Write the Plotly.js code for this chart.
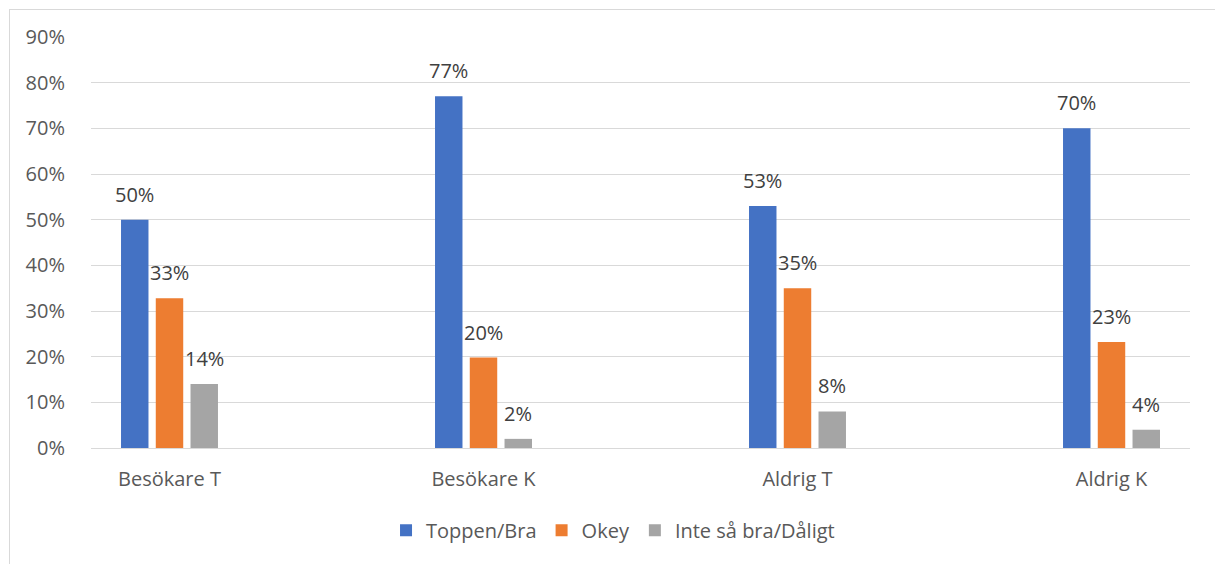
<!DOCTYPE html>
<html>
<head>
<meta charset="utf-8">
<script src="https://cdn.plot.ly/plotly-3.0.1.min.js"></script>
<style>
  html, body { margin: 0; padding: 0; background: #fff; }
  #wrap { position: relative; width: 1215px; height: 564px; }
  #chart { width: 1215px; height: 564px; }
  #frame { position: absolute; left: 9px; top: 9px; width: 1206px; height: 555px;
           border-left: 1px solid #d9d9d9; border-top: 1px solid #d9d9d9; pointer-events: none; box-sizing: border-box; }
</style>
</head>
<body>
<div id="wrap"><div id="chart"></div><div id="frame"></div></div>
<script>
const categories = ["Besökare T", "Besökare K", "Aldrig T", "Aldrig K"];
const seriesNames = ["Toppen/Bra", "Okey", "Inte så bra/Dåligt"];
const toppenBra = [0.50, 0.77, 0.53, 0.70];
const okey = [0.328, 0.198, 0.35, 0.232];
const inteSaBra = [0.14, 0.02, 0.08, 0.04];
const colors = ["#4472C4", "#ED7D31", "#A5A5A5"];

const seriesValues = [toppenBra, okey, inteSaBra];
const FONT = "'Open Sans', 'Noto Sans', sans-serif";
const FSIZE = 20;
const BARGAP = 0.668;

const traces = seriesValues.map((vals, i) => ({
  type: "bar",
  name: seriesNames[i],
  x: categories,
  y: vals,
  marker: { color: colors[i], line: { width: 0 } },
  hoverinfo: "skip"
}));

// data labels above each bar, positioned on the axis scale
const slot = (1 - BARGAP) / seriesValues.length;
const annotations = [];
seriesValues.forEach((vals, i) => {
  vals.forEach((v, j) => {
    annotations.push({
      x: j + (i - (seriesValues.length - 1) / 2) * slot,
      y: v,
      xref: "x", yref: "y",
      text: Math.round(v * 100) + "%",
      showarrow: false,
      yanchor: "bottom",
      yshift: 10,
      font: { family: FONT, size: FSIZE, color: "#404040" }
    });
  });
});

const layout = {
  width: 1215, height: 564,
  margin: { l: 91, r: 25, t: 37, b: 116 },
  paper_bgcolor: "#ffffff",
  plot_bgcolor: "#ffffff",
  font: { family: FONT, size: FSIZE, color: "#595959" },
  barmode: "group",
  bargap: BARGAP,
  bargroupgap: 0.21,
  showlegend: true,
  legend: {
    orientation: "h",
    x: 0.475, xanchor: "center",
    y: -0.2, yanchor: "middle",
    font: { family: FONT, size: FSIZE, color: "#595959" },
    itemwidth: 30,
    traceorder: "normal"
  },
  xaxis: {
    range: [-0.25, 3.25],
    showgrid: false,
    showline: false,
    zeroline: false,
    ticks: "outside",
    ticklen: 13,
    tickcolor: "rgba(0,0,0,0)",
    tickfont: { family: FONT, size: FSIZE, color: "#595959" },
    fixedrange: true
  },
  yaxis: {
    range: [0, 0.9],
    dtick: 0.1,
    tick0: 0,
    tickformat: ".0%",
    showgrid: true,
    gridcolor: "#d9d9d9",
    gridwidth: 1,
    zeroline: true,
    zerolinecolor: "#d9d9d9",
    zerolinewidth: 1,
    showline: false,
    ticks: "outside",
    ticklen: 21,
    tickcolor: "rgba(0,0,0,0)",
    tickfont: { family: FONT, size: FSIZE, color: "#595959" },
    fixedrange: true
  },
  annotations: annotations
};

Plotly.newPlot("chart", traces, layout, { displayModeBar: false, staticPlot: true });
</script>
</body>
</html>
